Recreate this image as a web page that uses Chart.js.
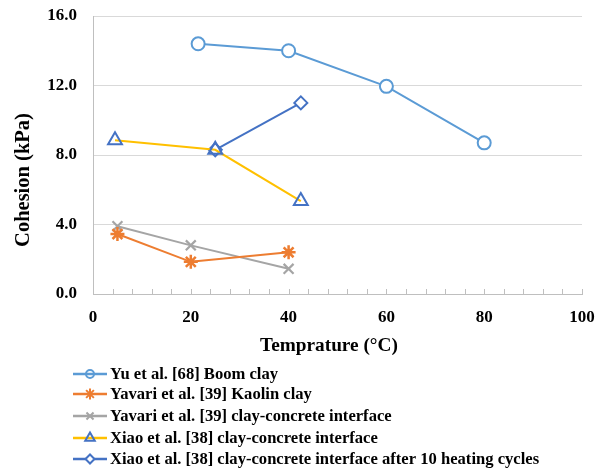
<!DOCTYPE html>
<html>
<head>
<meta charset="utf-8">
<script src="https://cdn.jsdelivr.net/npm/chart.js"></script>
<style>
  html, body { margin: 0; padding: 0; background: #fff; }
  #wrap { width: 603px; height: 468px; }
</style>
</head>
<body>
<div id="wrap"><canvas id="c" width="603" height="468"></canvas></div>
<script>
// ---- Data ----
const seriesNames = [
  'Yu et al. [68] Boom clay',
  'Yavari et al. [39] Kaolin clay',
  'Yavari et al. [39] clay-concrete interface',
  'Xiao et al. [38] clay-concrete interface',
  'Xiao et al. [38] clay-concrete interface after 10 heating cycles'
];
const yuX = [21.5, 40, 60, 80];
const yuY = [14.4, 14.0, 11.95, 8.7];
const kaolinX = [5, 20, 40];
const kaolinY = [3.45, 1.85, 2.4];
const yavariIntX = [5, 20, 40];
const yavariIntY = [3.9, 2.8, 1.45];
const xiaoX = [4.5, 25, 42.5];
const xiaoY = [8.85, 8.3, 5.35];
const xiaoCycX = [25, 42.5];
const xiaoCycY = [8.3, 11.0];
const xMajorLabels = [0, 20, 40, 60, 80, 100];
const xTitle = 'Temprature (°C)';
const yTitle = 'Cohesion (kPa)';

const pts = (xs, ys) => xs.map((x, i) => ({ x: x, y: ys[i] }));
const FONT = 'Liberation Serif, "Times New Roman", serif';

const legendMarkerRadius = [4, 5.5, 5, 5.5, 4.5];

const customPlugin = {
  id: 'customDecor',
  beforeDatasetsDraw(chart) {
    const ctx = chart.ctx, xs = chart.scales.x, area = chart.chartArea;
    ctx.save();
    ctx.strokeStyle = '#bfbfbf';
    ctx.lineWidth = 1;
    xs.ticks.forEach(t => {
      const px = Math.round(xs.getPixelForValue(t.value)) + 0.5;
      ctx.beginPath();
      ctx.moveTo(px, area.bottom);
      ctx.lineTo(px, area.bottom - 5);
      ctx.stroke();
    });
    ctx.restore();
  },
  afterDraw(chart) {
    const ctx = chart.ctx;
    ctx.save();
    ctx.fillStyle = '#000';
    ctx.textAlign = 'center';
    ctx.textBaseline = 'middle';
    ctx.font = 'bold 19.3px ' + FONT;
    ctx.fillText(xTitle, 329, 346);
    ctx.font = 'bold 20.5px ' + FONT;
    ctx.translate(24, 180);
    ctx.rotate(-Math.PI / 2);
    ctx.fillText(yTitle, 0, 0);
    ctx.restore();

    const rowY = [374, 394, 416, 438, 459];
    chart.data.datasets.forEach((ds, i) => {
      const y = rowY[i];
      ctx.save();
      ctx.strokeStyle = ds.borderColor;
      ctx.lineWidth = 2.5;
      ctx.beginPath();
      ctx.moveTo(73, y);
      ctx.lineTo(107, y);
      ctx.stroke();
      ctx.strokeStyle = ds.pointBorderColor;
      ctx.fillStyle = ds.pointStyle === 'circle' ? 'rgba(0,0,0,0)' : ds.pointBackgroundColor;
      ctx.lineWidth = 2;
      Chart.helpers.drawPoint(ctx, { pointStyle: ds.pointStyle, radius: legendMarkerRadius[i], borderWidth: 2, rotation: 0 }, 90, y);
      ctx.fillStyle = '#000';
      ctx.font = 'bold 16.6px ' + FONT;
      ctx.textAlign = 'left';
      ctx.textBaseline = 'middle';
      ctx.fillText(seriesNames[i], 110, y + 1);
      ctx.restore();
    });
  }
};

const mk = (label, xs, ys, line, ptColor, ptFill, style, r, bw) => ({
  label: label,
  data: pts(xs, ys),
  borderColor: line,
  borderWidth: 2,
  pointStyle: style,
  pointRadius: r,
  pointHoverRadius: r,
  pointBorderColor: ptColor,
  pointBackgroundColor: ptFill,
  pointBorderWidth: bw,
  fill: false,
  tension: 0,
  clip: false
});

new Chart(document.getElementById('c'), {
  type: 'line',
  data: {
    datasets: [
      mk(seriesNames[0], yuX, yuY, '#5B9BD5', '#5B9BD5', '#ffffff', 'circle', 6.5, 2),
      mk(seriesNames[1], kaolinX, kaolinY, '#ED7D31', '#ED7D31', '#ED7D31', 'star', 7, 2.5),
      mk(seriesNames[2], yavariIntX, yavariIntY, '#A5A5A5', '#A5A5A5', '#A5A5A5', 'crossRot', 7, 2.2),
      mk(seriesNames[3], xiaoX, xiaoY, '#FFC000', '#4472C4', 'rgba(0,0,0,0)', 'triangle', 8, 2),
      mk(seriesNames[4], xiaoCycX, xiaoCycY, '#4472C4', '#4472C4', '#ffffff', 'rectRot', 6.5, 2)
    ]
  },
  options: {
    responsive: false,
    animation: false,
    events: [],
    layout: { autoPadding: false, padding: { top: 16, right: 21, bottom: 139, left: 0 } },
    plugins: { legend: { display: false }, tooltip: { enabled: false }, title: { display: false } },
    scales: {
      x: {
        type: 'linear',
        min: 0, max: 100,
        afterFit: s => { s.height = 35; },
        grid: { display: true, drawOnChartArea: false, drawTicks: true, tickLength: 13, tickColor: 'rgba(0,0,0,0)' },
        border: { display: true, color: '#bfbfbf', width: 1 },
        ticks: {
          stepSize: 4,
          autoSkip: false,
          maxRotation: 0,
          padding: 0,
          color: '#000',
          font: { family: FONT, size: 17, weight: 'bold' },
          callback: v => (xMajorLabels.indexOf(v) >= 0 ? String(v) : '')
        }
      },
      y: {
        min: 0, max: 16,
        afterFit: s => { s.width = 93; },
        grid: { color: '#d9d9d9', lineWidth: 1, drawTicks: true, tickLength: 16, tickColor: 'rgba(0,0,0,0)' },
        border: { display: true, color: '#bfbfbf', width: 1 },
        ticks: {
          stepSize: 4,
          padding: 0,
          color: '#000',
          font: { family: FONT, size: 17, weight: 'bold' },
          callback: v => Number(v).toFixed(1)
        }
      }
    }
  },
  plugins: [customPlugin]
});
</script>
</body>
</html>
